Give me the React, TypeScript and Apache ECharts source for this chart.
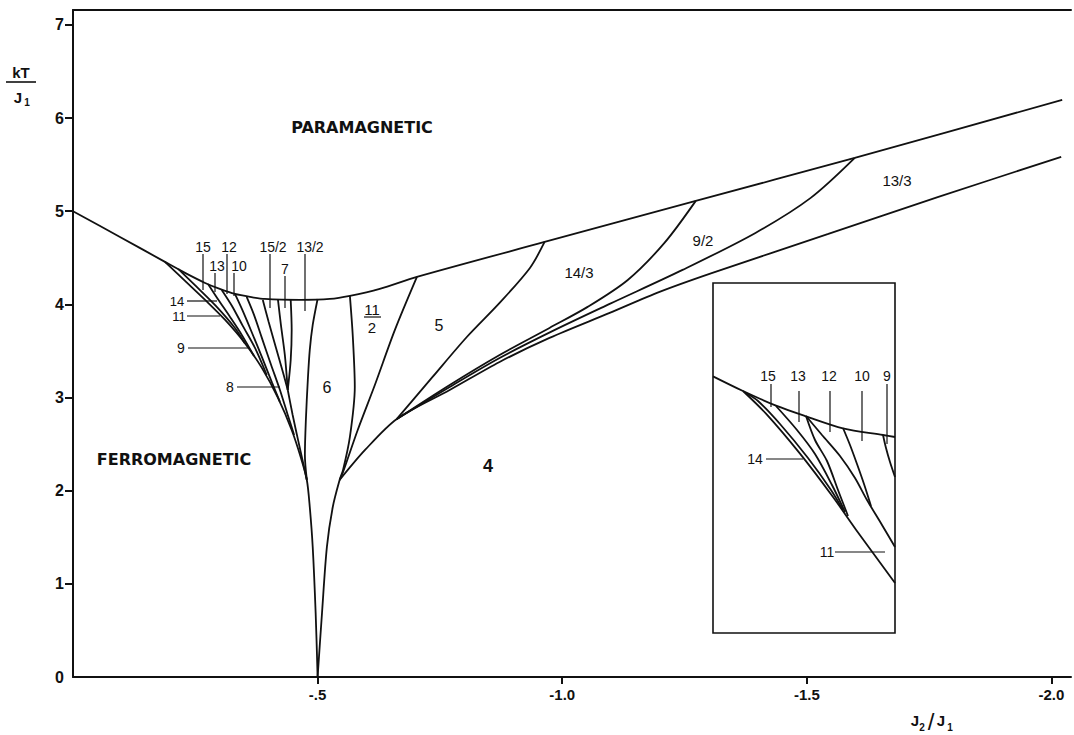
import React, { useEffect, useRef } from "react";
import * as echarts from "echarts";

// ---- axis ticks ----
const xTickValues = [-0.5, -1.0, -1.5, -2.0];
const yLabelValues = [0, 1, 2, 3, 4, 5, 6, 7];
const yTickValues = [1, 2, 3, 4, 5, 6, 7];

// ---- main diagram boundaries: [J2/J1, kT/J1] ----
const paraBoundary = [
  [0, 5.0], [-0.096, 4.724], [-0.188, 4.456], [-0.229, 4.338], [-0.27, 4.23],
  [-0.3, 4.166], [-0.331, 4.112], [-0.362, 4.08], [-0.392, 4.058], [-0.464, 4.048],
  [-0.525, 4.058], [-0.566, 4.091], [-0.627, 4.166], [-0.703, 4.295], [-0.964, 4.67],
  [-1.273, 5.111], [-1.598, 5.572], [-2.022, 6.195],
];
const ferroBoundary = [
  [-0.188, 4.456], [-0.229, 4.252], [-0.27, 4.048], [-0.311, 3.833], [-0.351, 3.586],
  [-0.386, 3.318], [-0.419, 2.996], [-0.447, 2.652], [-0.466, 2.351], [-0.478, 2.115],
  [-0.484, 1.825], [-0.49, 1.396], [-0.496, 0.687], [-0.5, 0],
];
const sixLeft = [
  [-0.5, 4.058], [-0.49, 3.779], [-0.484, 3.511], [-0.48, 3.189], [-0.476, 2.759],
  [-0.474, 2.384], [-0.478, 2.115],
];
const sixRight = [
  [-0.566, 4.091], [-0.572, 3.65], [-0.576, 3.114], [-0.566, 2.577], [-0.552, 2.222],
  [-0.545, 2.115], [-0.531, 1.825], [-0.519, 1.396], [-0.509, 0.687], [-0.5, 0],
];
const elevenHalvesRight = [
  [-0.703, 4.295], [-0.658, 3.726], [-0.617, 3.135], [-0.582, 2.652], [-0.552, 2.201],
  [-0.545, 2.115],
];
const fourBoundary = [
  [-0.545, 2.115], [-0.597, 2.437], [-0.662, 2.77], [-0.77, 3.081], [-0.872, 3.382],
  [-0.974, 3.64], [-1.097, 3.908], [-1.199, 4.134], [-1.307, 4.338], [-1.544, 4.756],
  [-1.769, 5.154], [-2.02, 5.583],
];
const fiveBoundary = [
  [-0.662, 2.77], [-0.735, 3.221], [-0.805, 3.65], [-0.872, 4.016], [-0.934, 4.391],
  [-0.964, 4.67],
];
const fourteenThirdsBoundary = [
  [-0.662, 2.77], [-0.77, 3.135], [-0.872, 3.457], [-0.974, 3.747], [-1.052, 3.973],
  [-1.134, 4.262], [-1.209, 4.66], [-1.273, 5.111],
];
const nineHalvesBoundary = [
  [-0.662, 2.77], [-0.77, 3.114], [-0.872, 3.425], [-0.985, 3.726], [-1.097, 4.005],
  [-1.246, 4.37], [-1.395, 4.767], [-1.508, 5.143], [-1.598, 5.572],
];
// left cluster of high-period phases
const cluster1 = [[-0.215, 4.38], [-0.253, 4.187], [-0.292, 3.983], [-0.331, 3.747], [-0.351, 3.586]];
const cluster2 = [[-0.276, 4.219], [-0.296, 4.058], [-0.321, 3.865], [-0.345, 3.672], [-0.37, 3.446]];
const cluster3 = [[-0.304, 4.155], [-0.325, 3.983], [-0.347, 3.769], [-0.372, 3.532], [-0.396, 3.242]];
const cluster4 = [[-0.331, 4.112], [-0.347, 3.93], [-0.366, 3.693], [-0.386, 3.436], [-0.407, 3.157], [-0.423, 2.953]];
const cluster5 = [[-0.355, 4.08], [-0.37, 3.887], [-0.386, 3.64], [-0.405, 3.35], [-0.423, 3.081], [-0.439, 2.813], [-0.452, 2.598]];
const cluster6 = [[-0.388, 4.048], [-0.4, 3.811], [-0.415, 3.532], [-0.429, 3.275], [-0.439, 3.081]];
const cluster7 = [[-0.419, 4.048], [-0.425, 3.779], [-0.433, 3.457], [-0.439, 3.081]];
const cluster8 = [[-0.445, 4.048], [-0.447, 3.726], [-0.445, 3.403], [-0.439, 3.081]];
const clusterFan = [[-0.439, 3.081], [-0.449, 2.813], [-0.46, 2.545], [-0.47, 2.308], [-0.478, 2.115]];

// ---- inset (magnified multiphase point) ----
const insetPara = [[-0.15, 4.3], [-0.18, 4.19], [-0.213, 4.08], [-0.243, 4.0], [-0.28, 3.91], [-0.32, 3.86], [-0.332, 3.845]];
const insetFerro = [[-0.18, 4.19], [-0.203, 4.02], [-0.237, 3.72], [-0.27, 3.395], [-0.293, 3.15], [-0.332, 2.75]];
const inset15 = [[-0.183, 4.175], [-0.195, 4.115], [-0.217, 3.9425], [-0.245, 3.6875], [-0.268, 3.4475], [-0.28, 3.2975]];
const inset13 = [[-0.213, 4.0775], [-0.234, 3.8975], [-0.252, 3.7175], [-0.269, 3.485], [-0.282, 3.2825]];
const inset12a = [[-0.243, 4.0025], [-0.252, 3.8225], [-0.264, 3.665], [-0.275, 3.4475], [-0.285, 3.2525]];
const inset12b = [[-0.243, 4.0025], [-0.259, 3.86], [-0.277, 3.7025], [-0.292, 3.5375], [-0.304, 3.3725], [-0.319, 3.185], [-0.332, 3.02]];
const inset10 = [[-0.28, 3.9125], [-0.287, 3.785], [-0.294, 3.6425], [-0.301, 3.4925], [-0.308, 3.3275]];
const inset9 = [[-0.32, 3.86], [-0.323, 3.7625], [-0.327, 3.6575], [-0.332, 3.545]];

const mainCurves = [
  paraBoundary, ferroBoundary, sixLeft, sixRight, elevenHalvesRight, fourBoundary,
  fiveBoundary, fourteenThirdsBoundary, nineHalvesBoundary,
  cluster1, cluster2, cluster3, cluster4, cluster5, cluster6, cluster7, cluster8, clusterFan,
];
const insetCurves = [insetPara, insetFerro, inset15, inset13, inset12a, inset12b, inset10, inset9];

const INK = "#111";
const FONT = '"Liberation Sans", Arial, sans-serif';
const WIDE = '"DejaVu Sans", "Liberation Sans", sans-serif';

function txt(x: number, y: number, text: string, size = 14, weight = "normal", family = FONT) {
  return {
    type: "text",
    x,
    y,
    z: 100,
    silent: true,
    style: {
      text,
      fill: INK,
      font: `${weight} ${size}px ${family}`,
      lineHeight: size,
      align: "center",
      verticalAlign: "middle",
      textAlign: "center",
      textVerticalAlign: "middle",
    },
  };
}
function seg(x1: number, y1: number, x2: number, y2: number, w = 1.2) {
  return {
    type: "line",
    z: 100,
    silent: true,
    shape: { x1, y1, x2, y2 },
    style: { stroke: INK, lineWidth: w },
  };
}

export default function App() {
  const ref = useRef<HTMLDivElement>(null);
  useEffect(() => {
    if (!ref.current) return;
    const chart = echarts.init(ref.current, null, { renderer: "svg" });
    const lineSeries = (data: number[][], gi: number) => ({
      type: "line",
      data,
      xAxisIndex: gi === 0 ? 0 : 2,
      yAxisIndex: gi === 0 ? 0 : 1,
      symbol: "none",
      showSymbol: false,
      smooth: 0.3,
      silent: true,
      clip: true,
      z: 5,
      lineStyle: { color: INK, width: 1.8 },
    });
    const series = [
      ...mainCurves.map((d) => lineSeries(d, 0)),
      ...insetCurves.map((d) => lineSeries(d, 1)),
    ];
    const graphic = [
      // axis names
      txt(21, 72, "kT", 15, "bold"),
      seg(6, 82, 36, 82, 1.6),
      txt(18, 97, "J", 15, "bold"),
      txt(27, 102, "1", 10, "bold"),
      txt(915, 720, "J", 15, "bold"),
      txt(922, 727, "2", 10, "bold"),
      txt(931, 721, "/", 24, "normal"),
      txt(941, 720, "J", 15, "bold"),
      txt(950, 727, "1", 10, "bold"),
      // phase names
      txt(362, 127, "PARAMAGNETIC", 16, "bold", WIDE),
      txt(174, 459, "FERROMAGNETIC", 16, "bold", WIDE),
      txt(488, 466, "4", 18, "bold"),
      txt(327, 387, "6", 16),
      txt(372, 309, "11", 15),
      seg(364, 317, 381, 317, 1.2),
      txt(372, 327, "2", 15),
      txt(439, 325, "5", 16),
      txt(579, 272, "14/3", 15),
      txt(703, 240, "9/2", 15),
      txt(897, 180, "13/3", 15),
      // cluster labels (main)
      txt(203, 247, "15", 14),
      txt(229, 247, "12", 14),
      txt(273, 247, "15/2", 14),
      txt(310, 247, "13/2", 14),
      txt(217, 266, "13", 14),
      txt(239, 266, "10", 14),
      txt(285, 269, "7", 14),
      seg(203, 254, 203, 290),
      seg(215, 273, 215, 292),
      seg(227, 254, 227, 294),
      seg(234, 273, 234, 296),
      seg(270, 254, 270, 308),
      seg(285, 276, 285, 308),
      seg(305, 254, 305, 311),
      txt(177, 301, "14", 13),
      seg(187, 301, 217, 301),
      txt(179, 316, "11", 13),
      seg(187, 316, 220, 316),
      txt(181, 348, "9", 14),
      seg(188, 348, 250, 348),
      txt(230, 387, "8", 14),
      seg(237, 387, 280, 387),
      // inset labels
      txt(768, 376, "15", 14),
      txt(798, 376, "13", 14),
      txt(829, 376, "12", 14),
      txt(862, 376, "10", 14),
      txt(887, 376, "9", 14),
      seg(771, 384, 771, 407),
      seg(799, 391, 799, 422),
      seg(830, 391, 830, 432),
      seg(862, 391, 862, 441),
      seg(887, 384, 887, 444),
      txt(755, 459, "14", 14),
      seg(766, 459, 803, 459),
      txt(827, 552, "11", 14),
      seg(835, 552, 885, 552),
    ];
    chart.setOption({
      animation: false,
      backgroundColor: "#fff",
      grid: [
        { left: 73, right: 3, top: 10, bottom: 58, show: false },
        {
          left: 713, top: 283, width: 182, height: 350, show: true,
          borderColor: INK, borderWidth: 1.6, backgroundColor: "transparent",
        },
      ],
      xAxis: [
        {
          gridIndex: 0, type: "value", inverse: true, min: -2.04, max: 0,
          splitLine: { show: false },
          axisLine: { show: true, lineStyle: { color: INK, width: 2 } },
          axisTick: { show: true, inside: false, length: 7, customValues: xTickValues, lineStyle: { color: INK, width: 2 } },
          axisLabel: {
            customValues: xTickValues, margin: 10, color: INK, fontSize: 15, fontWeight: "bold", fontFamily: FONT,
            formatter: (v: number) => (Math.abs(v + 0.5) < 1e-6 ? "-.5" : v.toFixed(1)),
          },
        },
        {
          gridIndex: 0, type: "value", position: "top", inverse: true, min: -2.04, max: 0,
          splitLine: { show: false },
          axisLine: { show: true, lineStyle: { color: INK, width: 2 } },
          axisTick: { show: false }, axisLabel: { show: false },
        },
        {
          gridIndex: 1, type: "value", inverse: true, min: -0.332, max: -0.15, show: false,
        },
      ],
      yAxis: [
        {
          gridIndex: 0, type: "value", min: 0, max: 7.16,
          splitLine: { show: false },
          axisLine: { show: true, lineStyle: { color: INK, width: 2 } },
          axisTick: { show: true, inside: false, length: 8, customValues: yTickValues, lineStyle: { color: INK, width: 2 } },
          axisLabel: {
            customValues: yLabelValues, margin: 9, color: INK, fontSize: 16, fontWeight: "bold", fontFamily: FONT,
          },
        },
        { gridIndex: 1, type: "value", min: 2.375, max: 5.0, show: false },
      ],
      series,
      graphic,
    });
    return () => chart.dispose();
  }, []);
  return <div ref={ref} style={{ position: "absolute", left: 0, top: 0, width: 1074, height: 735 }} />;
}
